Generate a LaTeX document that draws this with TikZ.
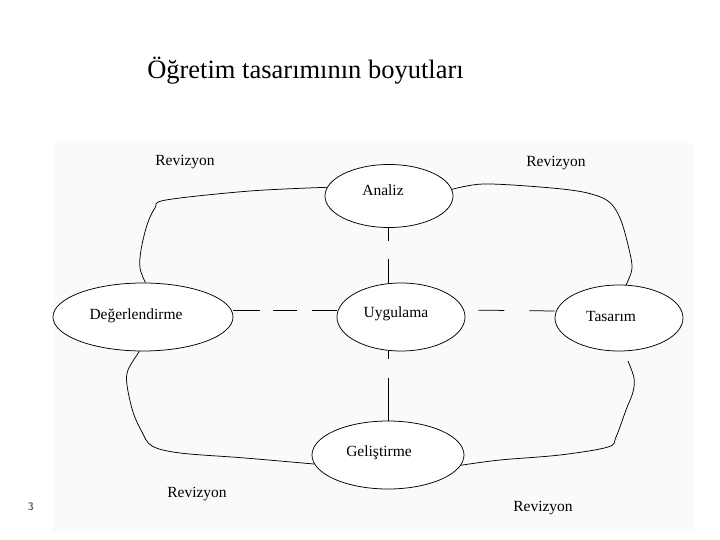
\documentclass[tikz,border=0pt]{standalone}
\usepackage{fontspec}
\setmainfont{Liberation Serif}
\usetikzlibrary{shapes.geometric}
\tikzset{
  oval/.style={draw=black, line width=0.75pt, ellipse, inner sep=0pt, fill=white},
  lbl/.style={font=\fontsize{15.5}{18}\selectfont, inner sep=0pt},
  wob/.style={draw=black, line width=0.75pt},
  dsh/.style={draw=black, line width=0.75pt}
}
\begin{document}
\begin{tikzpicture}[x=1pt,y=-1pt]
\useasboundingbox (0,0) rectangle (720,540);
\fill[white] (0,0) rectangle (720,540);
\fill[black!2] (53,143) rectangle (695,532);
% title
\node[font=\fontsize{26.5}{30}\selectfont, anchor=base, inner sep=0pt] (title) at (305.5,79) {Öğretim tasarımının boyutları};
% ellipses
\node[oval, minimum width=128pt, minimum height=63pt] (analiz) at (389,196) {};
\node[oval, minimum width=128pt, minimum height=68pt] (uyg) at (401,317) {};
\node[oval, minimum width=180pt, minimum height=68pt] (deg) at (143,317) {};
\node[oval, minimum width=128pt, minimum height=66pt] (tas) at (619,318) {};
\node[oval, minimum width=152pt, minimum height=68pt] (gel) at (388,455) {};
% labels inside
\node[lbl] (tanaliz) at (383,190) {Analiz};
\node[lbl] (tuyg) at (396,314) {Uygulama};
\node[lbl] (tdeg) at (136,316) {Değerlendirme};
\node[lbl] (ttas) at (611,316) {Tasarım};
\node[lbl] (tgel) at (379,453) {Geliştirme};
% Revizyon labels
\node[lbl] (r1) at (185,162) {Revizyon};
\node[lbl] (r2) at (556,163) {Revizyon};
\node[lbl] (r3) at (197,494) {Revizyon};
\node[lbl] (r4) at (543,508) {Revizyon};
% page number
\node[font=\sffamily\bfseries\fontsize{11}{13}\selectfont, text=black!60, inner sep=0pt] (pnum) at (31,507) {3};
% dashed connectors
\draw[dsh, dash pattern=on 27pt off 13pt on 24pt off 15pt on 30pt] ([yshift=7pt]deg.east) -- ([yshift=7pt]uyg.west);
\draw[dsh, dash pattern=on 0pt off 13pt on 26pt off 25pt on 30pt] ([yshift=7pt]uyg.east) -- ([yshift=7pt]tas.west);
\draw[dsh, dash pattern=on 13pt off 18pt on 30pt] (analiz.south -| 388,0) -- (uyg.north -| 388,0);
\draw[dsh, dash pattern=on 8pt off 19pt on 50pt] (uyg.south -| 388,0) -- (gel.north);
% wobbly revision loops
\draw[wob] plot[smooth, tension=0.55] coordinates {(analiz.172) (250,191) (166,200) (155,208) (147,225) (141,250) (140,268) (deg.86)};
\draw[wob] plot[smooth, tension=0.55] coordinates {(analiz.6) (483,184) (540,187) (583,192) (608,201) (620,218) (628,245) (632,268) (tas.78)};
\draw[wob] plot[smooth, tension=0.55] coordinates {(deg.264) (128,370) (127,385) (133,412) (142,432) (152,446) (180,453) (245,458) (gel.187)};
\coordinate (brend) at (628,361);
\draw[wob] plot[smooth, tension=0.55] coordinates {(gel.352) (500,460) (560,455) (608,447) (616,437) (626,410) (633,392) (634,378) (brend)};
\end{tikzpicture}
\end{document}
